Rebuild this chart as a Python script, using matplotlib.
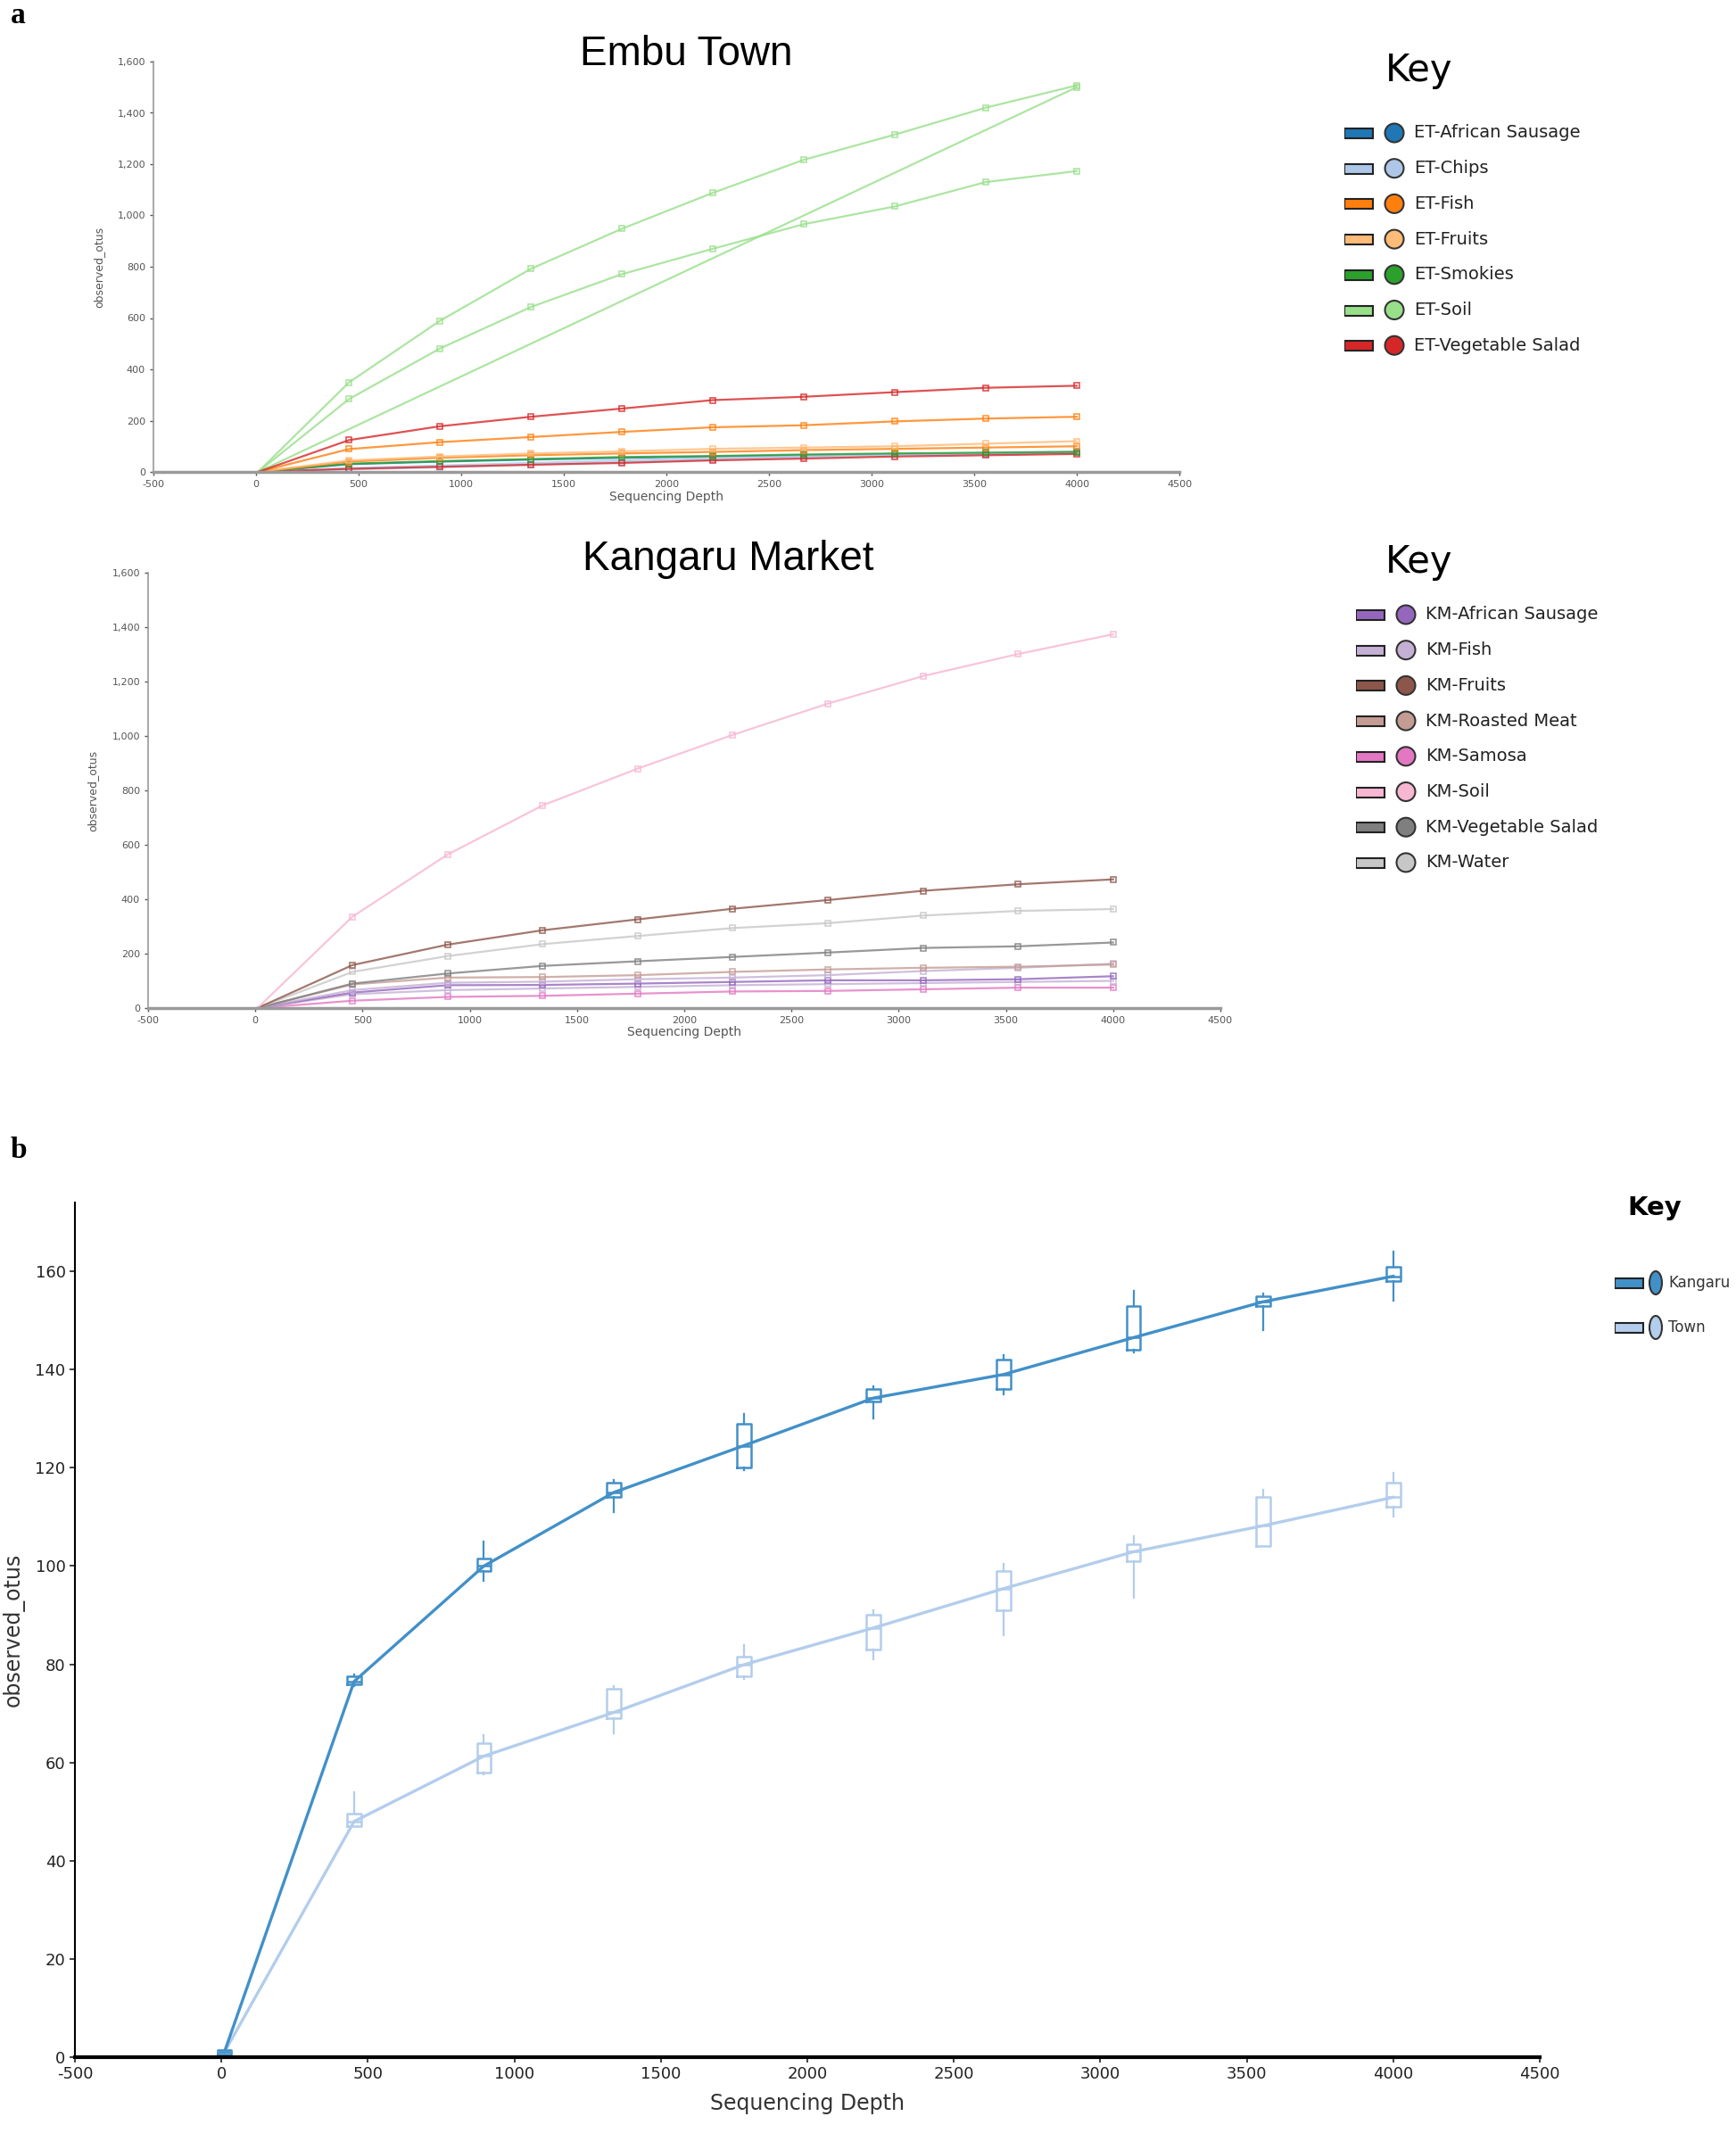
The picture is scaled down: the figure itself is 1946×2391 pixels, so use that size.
import matplotlib
matplotlib.use("Agg")
import matplotlib.pyplot as plt
from matplotlib.patches import Rectangle, Ellipse
from matplotlib.ticker import FuncFormatter, MultipleLocator

plt.rcParams.update({"axes.unicode_minus": False, "font.family": "DejaVu Sans"})

W, H = 1946, 2391

# rarefaction depths (x)
DEPTHS = [10, 453, 896, 1340, 1783, 2226, 2670, 3113, 3556, 4000]

# ---- panel a, Embu Town ----
ET_LABELS = ["ET-African Sausage", "ET-Chips", "ET-Fish", "ET-Fruits",
             "ET-Smokies", "ET-Soil", "ET-Vegetable Salad"]
ET_COLORS = ["#1f77b4", "#aec7e8", "#ff7f0e", "#ffbb78", "#2ca02c", "#98df8a", "#d62728"]
et_sausage = [0, 30, 40, 48, 55, 60, 65, 70, 70, 75]
et_chips = [0, 15, 25, 35, 45, 55, 62, 70, 75, 80]
et_fish = [0, 89, 116, 136, 156, 174, 182, 197, 208, 215]
et_fish_2 = [0, 40, 55, 65, 72, 78, 85, 90, 95, 100]
et_fruits = [0, 45, 60, 72, 80, 90, 95, 100, 110, 120]
et_smokies = [0, 32, 42, 50, 58, 62, 68, 72, 75, 78]
et_soil_a = [0, 349, 589, 792, 948, 1088, 1217, 1315, 1420, 1507]
et_soil_b = [0, 284, 481, 643, 771, 870, 966, 1035, 1130, 1173]
et_soil_c = [0, None, None, None, None, None, None, None, None, 1500]
et_salad = [0, 124, 178, 215, 247, 280, 293, 311, 328, 336]
et_salad_2 = [0, 12, 20, 28, 35, 45, 52, 60, 65, 70]
et_other = [0, 10, 18, 28, 38, 48, 58, 65, 70, 75]

# ---- panel a, Kangaru Market ----
KM_LABELS = ["KM-African Sausage", "KM-Fish", "KM-Fruits", "KM-Roasted Meat",
             "KM-Samosa", "KM-Soil", "KM-Vegetable Salad", "KM-Water"]
KM_COLORS = ["#9467bd", "#c5b0d5", "#8c564b", "#c49c94", "#e377c2", "#f7b6d2",
             "#7f7f7f", "#c7c7c7"]
km_sausage = [0, 57, 84, 85, 90, 96, 102, 102, 106, 117]
km_fish = [0, 51, 66, 72, 78, 84, 88, 92, 96, 100]
km_fish_2 = [0, 66, 93, 97, 106, 112, 121, 136, 148, 163]
km_fruits = [0, 158, 233, 286, 326, 365, 397, 431, 455, 473]
km_roasted = [0, 87, 112, 114, 121, 133, 142, 148, 152, 160]
km_samosa = [0, 27, 41, 45, 53, 61, 63, 69, 75, 75]
km_soil = [0, 336, 564, 745, 880, 1004, 1119, 1220, 1301, 1374]
km_salad = [0, 90, 127, 155, 172, 188, 204, 221, 227, 241]
km_water = [0, 133, 191, 235, 265, 294, 312, 340, 357, 364]

# ---- panel b, pooled by location ----
B_LABELS = ["Kangaru", "Town"]
B_COLORS = ["#4290c8", "#b3cdec"]
kangaru_mean = [1, 76.5, 100, 115, 124.5, 134.2, 139, 146.5, 153.8, 159]
kangaru_q1 = [0.5, 76, 99, 114, 120, 133.5, 136, 144, 153, 158]
kangaru_q3 = [1.5, 77.5, 101.5, 117, 129, 136, 142, 153, 155, 161]
kangaru_lo = [0.5, 75.5, 97, 111, 119.5, 130, 135, 143.5, 148, 154]
kangaru_hi = [1.5, 78, 105, 117.5, 131, 136.5, 143, 156, 155.5, 164]
town_mean = [1, 48, 61.3, 70.2, 79.9, 87.4, 95.4, 102.9, 108.2, 114]
town_q1 = [0.5, 47, 58, 69, 77.5, 83, 91, 101, 104, 112]
town_q3 = [1.5, 49.5, 64, 75, 81.5, 90, 99, 104.5, 114, 117]
town_lo = [0.5, 47, 57.5, 66, 77, 81, 86, 93.5, 104, 110]
town_hi = [1.5, 54, 65.5, 75.5, 84, 91, 100.5, 106, 115.5, 119]


def rect(x0, y0, x1, y1):
    return [x0 / W, 1 - y1 / H, (x1 - x0) / W, (y1 - y0) / H]


def draw_series(ax, values, color):
    pts = [(d, v) for d, v in zip(DEPTHS, values) if v is not None]
    xs = [p[0] for p in pts]
    ys = [p[1] for p in pts]
    ax.plot(xs, ys, "-", color=color, lw=1.6, alpha=0.8)
    ax.plot(xs[1:], ys[1:], "s", color=color, ms=5, mfc="none", mew=1.2, alpha=0.8)


def style_a(ax, ylab_x, xlab_y):
    ax.set_xlim(-500, 4500)
    ax.set_ylim(0, 1600)
    ax.xaxis.set_major_locator(MultipleLocator(500))
    ax.yaxis.set_major_locator(MultipleLocator(200))
    ax.yaxis.set_major_formatter(FuncFormatter(lambda v, _: f"{v:,.0f}"))
    for s in ("top", "right"):
        ax.spines[s].set_visible(False)
    ax.spines["bottom"].set_color("#9a9a9a")
    ax.spines["bottom"].set_linewidth(2.5)
    ax.spines["left"].set_color("#9a9a9a")
    ax.spines["left"].set_linewidth(1.2)
    ax.tick_params(labelsize=8, colors="#555555", length=3, width=1)
    ax.set_ylabel("observed_otus", fontsize=9, color="#555555")
    ax.set_xlabel("Sequencing Depth", fontsize=10, color="#555555")
    ax.yaxis.set_label_coords(ylab_x, 0.5)
    ax.xaxis.set_label_coords(0.5, xlab_y)


def draw_key(x0, y0, labels, colors, spacing, fs, title_fs, title_dx, title_bold,
             ellipse=False, item_dy=70):
    kax = fig.add_axes(rect(x0, y0, x0 + 400, y0 + 520))
    kax.set_xlim(x0, x0 + 400)
    kax.set_ylim(y0 + 520, y0)
    kax.axis("off")
    kax.text(x0 + title_dx, y0, "Key", fontsize=title_fs, va="center", ha="left",
             fontweight="bold" if title_bold else "normal")
    for i, (lab, col) in enumerate(zip(labels, colors)):
        y = y0 + item_dy + i * spacing
        kax.add_patch(Rectangle((x0, y - 5), 32, 11, facecolor=col, edgecolor="#222222", lw=1.5))
        if ellipse:
            kax.add_patch(Ellipse((x0 + 46, y), 14, 26, facecolor=col, edgecolor="#333333", lw=1.5))
            kax.text(x0 + 60, y, lab, fontsize=fs, va="center", color="#333333")
        else:
            kax.add_patch(Ellipse((x0 + 56, y), 21, 21, facecolor=col, edgecolor="#333333", lw=1.5))
            kax.text(x0 + 78, y, lab, fontsize=fs, va="center", color="#222222")


fig = plt.figure(figsize=(W / 100, H / 100), dpi=100)

# panel a - Embu Town
ax1 = fig.add_axes(rect(172, 69, 1322, 529))
et_series = [(et_sausage, 0), (et_chips, 1), (et_other, 1), (et_salad_2, 6),
             (et_smokies, 4), (et_fish_2, 2), (et_fruits, 3), (et_fish, 2),
             (et_soil_a, 5), (et_soil_b, 5), (et_soil_c, 5), (et_salad, 6)]
for vals, ci in et_series:
    draw_series(ax1, vals, ET_COLORS[ci])
style_a(ax1, -0.048, -0.045)
fig.text(769 / W, 1 - 61 / H, "Embu Town", fontsize=33, ha="center", va="center",
         family="Liberation Sans")
draw_key(1507, 79, ET_LABELS, ET_COLORS, 39.7, 14, 30, 46, False)

# panel a - Kangaru Market
ax2 = fig.add_axes(rect(166, 642, 1368, 1130))
km_series = [(km_samosa, 4), (km_fish, 1), (km_sausage, 0), (km_fish_2, 1),
             (km_roasted, 3), (km_salad, 6), (km_water, 7), (km_fruits, 2), (km_soil, 5)]
for vals, ci in km_series:
    draw_series(ax2, vals, KM_COLORS[ci])
style_a(ax2, -0.046, -0.04)
fig.text(816 / W, 1 - 627 / H, "Kangaru Market", fontsize=33, ha="center", va="center",
         family="Liberation Sans")
draw_key(1520, 630, KM_LABELS, KM_COLORS, 39.7, 14, 30, 33, False, item_dy=59)

# panel b
ax3 = fig.add_axes(rect(84, 1348, 1726, 2306))
for means, q1, q3, lo, hi, col in [
        (town_mean, town_q1, town_q3, town_lo, town_hi, B_COLORS[1]),
        (kangaru_mean, kangaru_q1, kangaru_q3, kangaru_lo, kangaru_hi, B_COLORS[0])]:
    ax3.plot(DEPTHS, means, "-", color=col, lw=2.4)
    stats = [dict(med=m, q1=a, q3=b, whislo=c, whishi=d)
             for m, a, b, c, d in zip(means, q1, q3, lo, hi)]
    ax3.bxp(stats, positions=DEPTHS, widths=48, showcaps=False, showfliers=False,
            manage_ticks=False,
            boxprops=dict(color=col, lw=1.8), whiskerprops=dict(color=col, lw=1.6),
            medianprops=dict(color=col, lw=1.8))
ax3.set_xlim(-500, 4500)
ax3.set_ylim(0, 174)
ax3.xaxis.set_major_locator(MultipleLocator(500))
ax3.set_yticks(range(0, 161, 20))
for s in ("top", "right"):
    ax3.spines[s].set_visible(False)
ax3.spines["bottom"].set_linewidth(3)
ax3.spines["left"].set_linewidth(1.5)
ax3.tick_params(labelsize=13, colors="#222222", length=4, width=1.2)
ax3.set_ylabel("observed_otus", fontsize=17, color="#333333")
ax3.set_xlabel("Sequencing Depth", fontsize=17, color="#333333")
ax3.yaxis.set_label_coords(-0.034, 0.5)
ax3.xaxis.set_label_coords(0.5, -0.042)
draw_key(1810, 1354, B_LABELS, B_COLORS, 50, 12, 21, 14, True, ellipse=True, item_dy=84)

fig.text(12 / W, 1 - 18 / H, "a", fontsize=24, fontweight="bold", family="Liberation Serif",
         va="center", ha="left")
fig.text(12 / W, 1 - 1289 / H, "b", fontsize=24, fontweight="bold", family="Liberation Serif",
         va="center", ha="left")

fig.savefig("out.png", dpi=100)
